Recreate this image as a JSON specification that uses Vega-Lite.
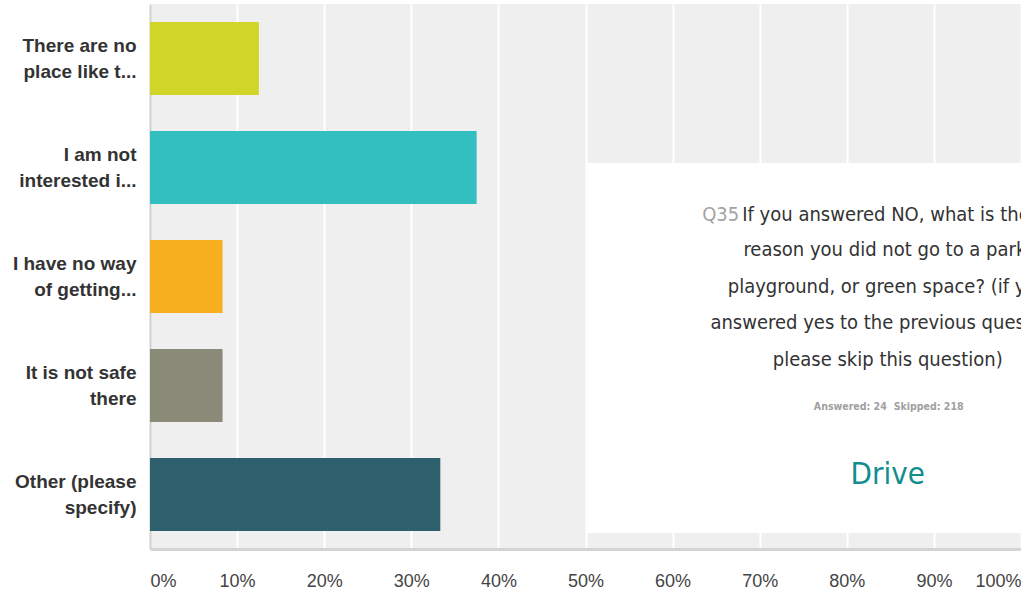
{
  "$schema": "https://vega.github.io/schema/vega-lite/v6.json",
  "width": 871,
  "height": 545,
  "autosize": "none",
  "padding": {"left": 150, "top": 4, "right": 0, "bottom": 45},
  "background": "white",
  "config": {
    "view": {"fill": "#efefef", "stroke": null},
    "font": "Liberation Sans"
  },
  "datasets": {
    "answers": [
      {"answer": "There are no|place like t...", "share": 0.125},
      {"answer": "I am not|interested i...", "share": 0.375},
      {"answer": "I have no way|of getting...", "share": 0.0833},
      {"answer": "It is not safe|there", "share": 0.0833},
      {"answer": "Other (please|specify)", "share": 0.3333}
    ],
    "panel": [{"x": 0.502, "x2": 1.0, "y": 0.147, "y2": 3.541}],
    "qnum": [{"x": 0.634, "y": 3.064, "t": "Q35"}],
    "firstline": [{"x": 0.680, "y": 3.064, "t": "If you answered NO, what is the main"}],
    "titlelines": [
      {"x": 0.847, "y": 2.743, "t": "reason you did not go to a park,"},
      {"x": 0.847, "y": 2.404, "t": "playground, or green space? (if you"},
      {"x": 0.847, "y": 2.073, "t": "answered yes to the previous question,"},
      {"x": 0.847, "y": 1.734, "t": "please skip this question)"}
    ],
    "stats": [
      {"x": 0.804, "y": 1.303, "t": "Answered: 24"},
      {"x": 0.894, "y": 1.303, "t": "Skipped: 218"}
    ],
    "drive": [{"x": 0.847, "y": 0.679, "t": "Drive"}]
  },
  "layer": [
    {
      "data": {"name": "answers"},
      "mark": {"type": "bar"},
      "encoding": {
        "y": {
          "field": "answer",
          "type": "nominal",
          "sort": null,
          "scale": {"paddingInner": 0.33, "paddingOuter": 0.165},
          "axis": {
            "title": null,
            "labelExpr": "split(datum.label, '|')",
            "labelFont": "Liberation Sans",
            "labelFontSize": 19,
            "labelFontWeight": "bold",
            "labelColor": "#333333",
            "labelLineHeight": 26,
            "labelOffset": -13,
            "labelPadding": 14,
            "labelLimit": 200,
            "ticks": false,
            "domainColor": "#cfcfcf",
            "domainWidth": 2,
            "grid": false
          }
        },
        "x": {
          "field": "share",
          "type": "quantitative",
          "scale": {"domain": [0, 1], "nice": false},
          "axis": {
            "title": null,
            "values": [0, 0.1, 0.2, 0.3, 0.4, 0.5, 0.6, 0.7, 0.8, 0.9, 1.0],
            "format": ".0%",
            "labelFont": "Liberation Sans",
            "labelFontSize": 18,
            "labelColor": "#444444",
            "labelPadding": 23,
            "labelFlush": true,
            "ticks": false,
            "domainColor": "#d4d4d4",
            "domainWidth": 3,
            "grid": true,
            "gridColor": "#ffffff",
            "gridWidth": 2,
            "gridOpacity": 1
          }
        },
        "color": {
          "field": "answer",
          "type": "nominal",
          "sort": null,
          "legend": null,
          "scale": {
            "domain": ["There are no|place like t...", "I am not|interested i...", "I have no way|of getting...", "It is not safe|there", "Other (please|specify)"],
            "range": ["#d0d528", "#33bec0", "#f7af1f", "#8a8a78", "#2e5f6c"]
          }
        }
      }
    },
    {
      "data": {"name": "panel"},
      "mark": {"type": "rect", "color": "#ffffff", "opacity": 1},
      "encoding": {
        "x": {"field": "x", "type": "quantitative"},
        "x2": {"field": "x2"},
        "y": {"field": "y", "type": "quantitative", "scale": {"domain": [0, 5], "nice": false}, "axis": null},
        "y2": {"field": "y2"}
      }
    },
    {
      "data": {"name": "qnum"},
      "mark": {"type": "text", "clip": true, "align": "left", "baseline": "middle", "font": "DejaVu Sans Condensed", "fontSize": 20, "color": "#a3a3a3"},
      "encoding": {
        "x": {"field": "x", "type": "quantitative"},
        "y": {"field": "y", "type": "quantitative", "scale": {"domain": [0, 5], "nice": false}, "axis": null},
        "text": {"field": "t"}
      }
    },
    {
      "data": {"name": "firstline"},
      "mark": {"type": "text", "clip": true, "align": "left", "baseline": "middle", "font": "DejaVu Sans Condensed", "fontSize": 20, "color": "#333333"},
      "encoding": {
        "x": {"field": "x", "type": "quantitative"},
        "y": {"field": "y", "type": "quantitative", "scale": {"domain": [0, 5], "nice": false}, "axis": null},
        "text": {"field": "t"}
      }
    },
    {
      "data": {"name": "titlelines"},
      "mark": {"type": "text", "clip": true, "align": "center", "baseline": "middle", "font": "DejaVu Sans Condensed", "fontSize": 20, "color": "#333333"},
      "encoding": {
        "x": {"field": "x", "type": "quantitative"},
        "y": {"field": "y", "type": "quantitative", "scale": {"domain": [0, 5], "nice": false}, "axis": null},
        "text": {"field": "t"}
      }
    },
    {
      "data": {"name": "stats"},
      "mark": {"type": "text", "clip": true, "align": "center", "baseline": "middle", "font": "DejaVu Sans Condensed", "fontSize": 10.5, "fontWeight": "bold", "color": "#a0a0a0"},
      "encoding": {
        "x": {"field": "x", "type": "quantitative"},
        "y": {"field": "y", "type": "quantitative", "scale": {"domain": [0, 5], "nice": false}, "axis": null},
        "text": {"field": "t"}
      }
    },
    {
      "data": {"name": "drive"},
      "mark": {"type": "text", "clip": true, "align": "center", "baseline": "middle", "font": "DejaVu Sans Condensed", "fontSize": 31, "color": "#128e8e"},
      "encoding": {
        "x": {"field": "x", "type": "quantitative"},
        "y": {"field": "y", "type": "quantitative", "scale": {"domain": [0, 5], "nice": false}, "axis": null},
        "text": {"field": "t"}
      }
    }
  ],
  "resolve": {"scale": {"y": "independent", "color": "independent"}}
}
